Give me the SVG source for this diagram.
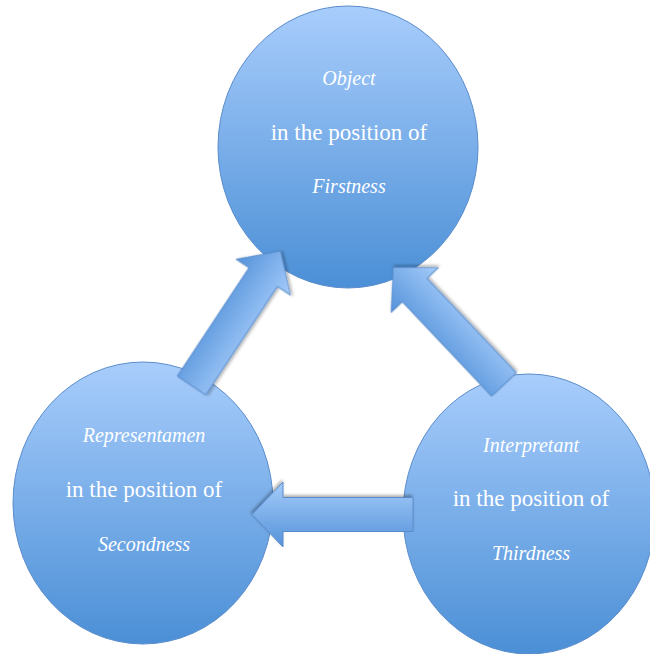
<svg xmlns="http://www.w3.org/2000/svg" width="650" height="654" viewBox="0 0 650 654">
<defs>
<linearGradient id="gCircle" x1="0" y1="0" x2="0" y2="1">
<stop offset="0" stop-color="#a8cdfc"/>
<stop offset="1" stop-color="#4b8fd6"/>
</linearGradient>
<linearGradient id="gArrow" gradientUnits="userSpaceOnUse" x1="0" y1="-32" x2="0" y2="32">
<stop offset="0" stop-color="#5593da"/>
<stop offset="1" stop-color="#a4cbfa"/>
</linearGradient>
<filter id="shadow" x="-20%" y="-20%" width="140%" height="140%">
<feDropShadow dx="1" dy="2" stdDeviation="1.5" flood-color="#000" flood-opacity="0.3"/>
</filter>
<polygon id="arrowShape" points="0,-17 130,-17 130,-32.5 161,0 130,32.5 130,17 0,17"/>
</defs>
<style>
.node ellipse{fill:url(#gCircle);stroke:#5a8ccb;stroke-width:1}
.arrow{fill:url(#gArrow);stroke:#5a8ccb;stroke-width:1;filter:url(#shadow)}
text{font-family:"Liberation Serif","Times New Roman",serif;fill:#ffffff;text-anchor:middle}
.reg{font-size:23px}
.it{font-size:20px;font-style:italic}
</style>
<g id="node-object" class="node">
<ellipse cx="348" cy="147" rx="130" ry="141"/>
<text class="it" x="349" y="85">Object</text>
<text class="reg" x="349" y="140">in the position of</text>
<text class="it" x="349" y="193">Firstness</text>
</g>
<g id="node-representamen" class="node">
<ellipse cx="143" cy="503" rx="130" ry="141"/>
<text class="it" x="144" y="442">Representamen</text>
<text class="reg" x="144" y="497">in the position of</text>
<text class="it" x="144" y="551">Secondness</text>
</g>
<g id="node-interpretant" class="node">
<ellipse cx="529" cy="514" rx="126" ry="140"/>
<text class="it" x="531" y="452">Interpretant</text>
<text class="reg" x="531" y="506">in the position of</text>
<text class="it" x="531" y="560">Thirdness</text>
</g>
<g id="connectors">
<use href="#arrowShape" class="arrow" transform="translate(191.5,385.5) rotate(-56.5)"/>
<use href="#arrowShape" class="arrow" transform="translate(504,384.5) rotate(-133.4)"/>
<use href="#arrowShape" class="arrow" transform="translate(413,514.5) rotate(180)"/>
</g>
</svg>
